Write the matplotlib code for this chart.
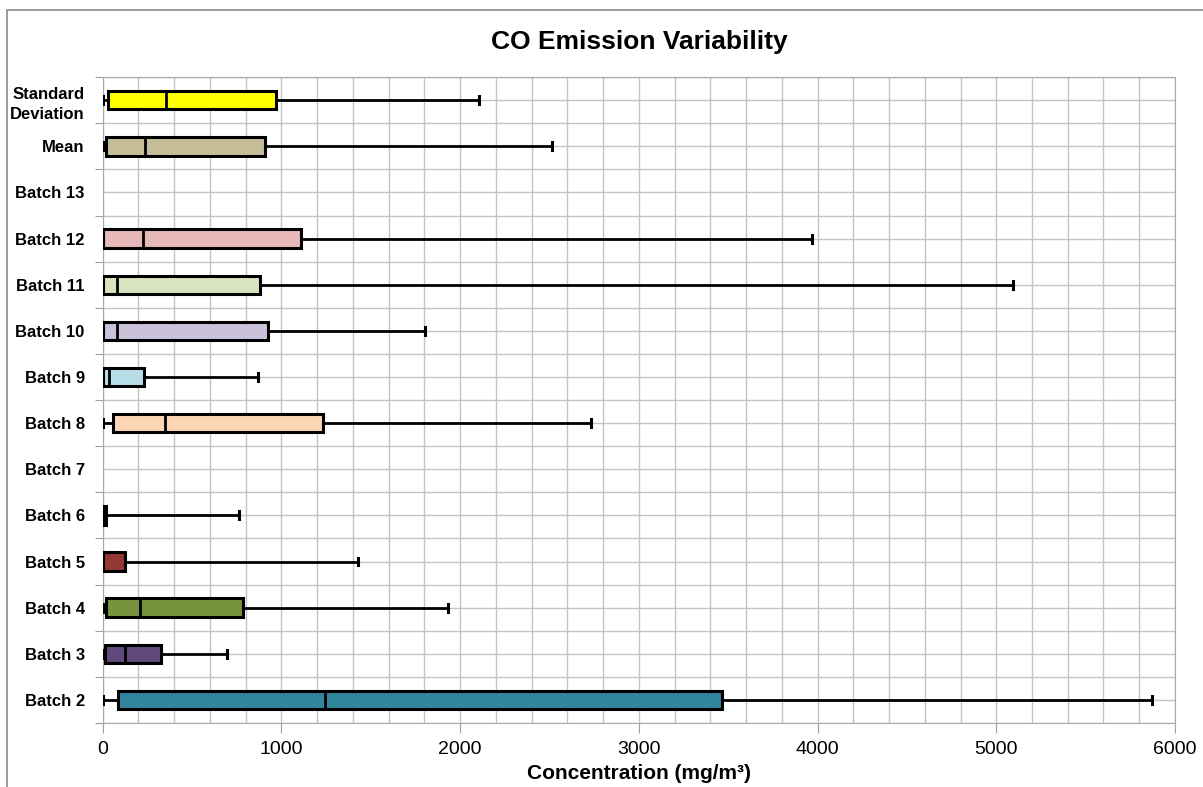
import numpy as np
import matplotlib.pyplot as plt
from matplotlib.patches import Rectangle

# Box plot summary per batch (mg/m3); Batch 7 and Batch 13 have no data
labels = ['Batch 2', 'Batch 3', 'Batch 4', 'Batch 5', 'Batch 6', 'Batch 7',
          'Batch 8', 'Batch 9', 'Batch 10', 'Batch 11', 'Batch 12', 'Batch 13',
          'Mean', 'Standard\nDeviation']
mins = [0, 0, 0, 0, 0, np.nan, 0, 0, 0, 0, 0, np.nan, 0, 0]
q1s = [87, 15, 17, 3, 2, np.nan, 59, 3, 3, 3, 3, np.nan, 18, 28]
medians = [1242, 123, 208, 3, 5, np.nan, 348, 37, 78, 82, 227, np.nan, 236, 354]
q3s = [3463, 324, 786, 123, 18, np.nan, 1232, 232, 922, 879, 1112, np.nan, 906, 968]
maxs = [5873, 694, 1933, 1427, 763, np.nan, 2730, 867, 1805, 5093, 3970, np.nan, 2516, 2108]
colors = ['#31859C', '#604A7B', '#77933C', '#953735', '#403152', None,
          '#FCD5B5', '#B7DEE8', '#CCC1DA', '#D7E4BD', '#E6B9B8', None,
          '#C4BD97', '#FFFF00']

plt.rcParams['font.family'] = ['Liberation Sans', 'DejaVu Sans']

fig = plt.figure(figsize=(12.03, 7.87), dpi=100)
ax = fig.add_axes([0.0854, 0.0813, 0.8913, 0.8207])

# outer chart frame (top and left edges visible)
fig.patches.append(Rectangle((0.006, -0.1), 1.2, 1.087, transform=fig.transFigure,
                             fill=False, edgecolor='#8C8C8C', linewidth=1.2))

stats, positions, fills = [], [], []
for i, lab in enumerate(labels):
    if np.isnan(medians[i]):
        continue
    stats.append(dict(whislo=mins[i], q1=q1s[i], med=medians[i], q3=q3s[i],
                      whishi=maxs[i], fliers=[], label=lab))
    positions.append(i)
    fills.append(colors[i])

bp = ax.bxp(stats, positions=positions, widths=0.4, capwidths=0.17,
            orientation='horizontal', patch_artist=True, showfliers=False,
            boxprops=dict(linewidth=2.2, edgecolor='black'),
            medianprops=dict(color='black', linewidth=2),
            whiskerprops=dict(color='black', linewidth=2),
            capprops=dict(color='black', linewidth=2.2))
for patch, c in zip(bp['boxes'], fills):
    patch.set_facecolor(c)
for artist in bp['boxes'] + bp['medians'] + bp['whiskers'] + bp['caps']:
    artist.set_zorder(3)

ax.set_xlim(0, 6000)
ax.set_ylim(-0.5, len(labels) - 0.5)
ax.set_xticks(np.arange(0, 6001, 1000))
ax.set_xticks(np.arange(0, 6001, 200), minor=True)
ax.set_yticks(np.arange(-0.5, len(labels), 1.0))
ax.set_yticklabels([])
ax.set_yticks(np.arange(len(labels)), minor=True)
ax.set_yticklabels(labels, minor=True, fontweight='bold', fontsize=12,
                   linespacing=1.45)

ax.grid(True, which='both', axis='both', color='#C4C4C4', linewidth=1, zorder=0)
ax.set_axisbelow(True)
ax.tick_params(axis='y', which='major', length=6, color='#A0A0A0', direction='out')
ax.tick_params(axis='y', which='minor', length=0, pad=13)
ax.tick_params(axis='x', which='major', length=7, color='#A0A0A0', labelsize=14, pad=6)
ax.tick_params(axis='x', which='minor', length=0)
for s in ax.spines.values():
    s.set_color('#A8A8A8')

ax.set_title('CO Emission Variability', fontsize=19, fontweight='bold', pad=20)
ax.set_xlabel('Concentration (mg/m³)', fontsize=15, fontweight='bold', labelpad=4)

fig.savefig('out.png', dpi=100)
